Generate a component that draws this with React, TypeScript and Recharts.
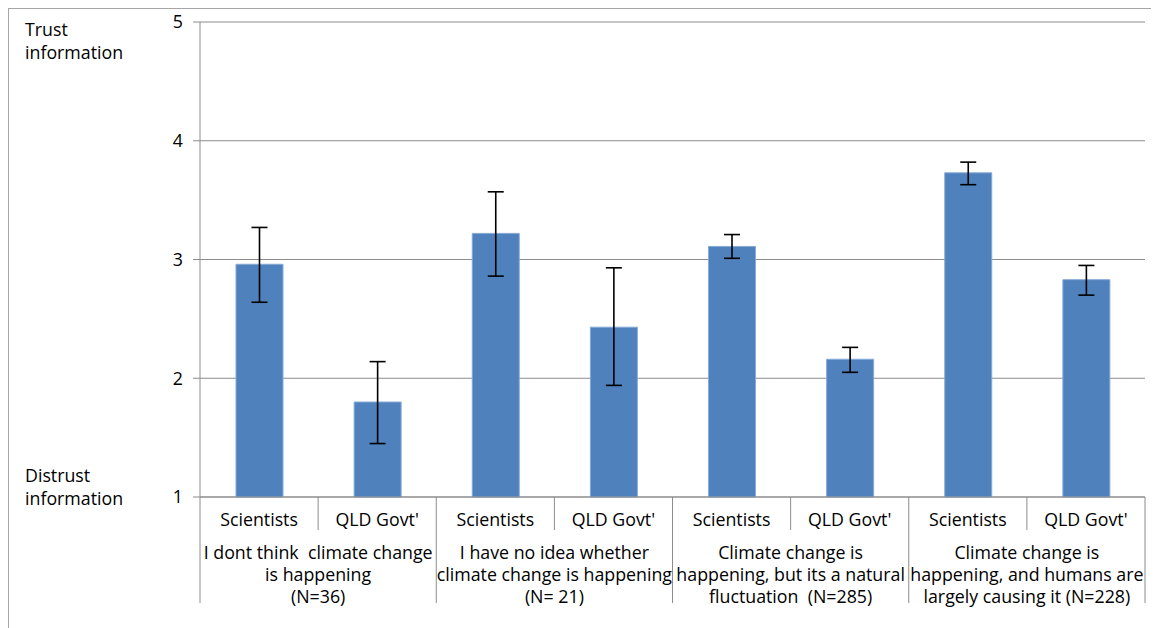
import React from 'react'
import { BarChart, Bar, XAxis, YAxis, CartesianGrid, ErrorBar } from 'recharts'

const sources = ["Scientists", "QLD Govt'", "Scientists", "QLD Govt'", "Scientists", "QLD Govt'", "Scientists", "QLD Govt'"]
const groupLabels = [
  ['I dont think  climate change', 'is happening', '(N=36)'],
  ['I have no idea whether', 'climate change is happening', '(N= 21)'],
  ['Climate change is', 'happening, but its a natural', 'fluctuation  (N=285)'],
  ['Climate change is', 'happening, and humans are', 'largely causing it (N=228)'],
]
const means = [2.96, 1.8, 3.22, 2.43, 3.11, 2.16, 3.73, 2.83]
const lower = [2.64, 1.45, 2.86, 1.94, 3.01, 2.05, 3.63, 2.7]
const upper = [3.27, 2.14, 3.57, 2.93, 3.21, 2.26, 3.82, 2.95]
const yTicks = [1, 2, 3, 4, 5]
const topLabel = ['Trust', 'information']
const bottomLabel = ['Distrust', 'information']

const data = sources.map((s, i) => ({
  key: `${i}`,
  source: s,
  value: means[i],
  err: [means[i] - lower[i], upper[i] - means[i]],
}))

const FONT = '"Open Sans", sans-serif'
const FS = 17.8
const LINE = '#8c8c8c'
const W = 1150
const H = 619
const PLOT_L = 191
const PLOT_R = 1136
const BAND = (PLOT_R - PLOT_L) / sources.length

function CategoryTick(props: any) {
  const { x, y, index } = props
  const src = sources[index]
  const left = x - BAND / 2
  const groupStart = index % 2 === 0
  const last = index === sources.length - 1
  return (
    <g>
      <line x1={left} y1={y} x2={left} y2={y + (groupStart ? 106 : 33)} stroke={LINE} strokeWidth={1} />
      {last && <line x1={x + BAND / 2} y1={y} x2={x + BAND / 2} y2={y + 106} stroke={LINE} strokeWidth={1} />}
      <text x={x} y={y + 29} textAnchor="middle" fontSize={FS} fontFamily={FONT} fill="#000">
        {src}
      </text>
      {!groupStart &&
        groupLabels[(index - 1) / 2].map((line, j) => (
          <text
            key={j}
            x={left}
            y={y + 62 + j * 22}
            textAnchor="middle"
            fontSize={FS}
            fontFamily={FONT}
            fill="#000"
            style={{ whiteSpace: 'pre' }}
          >
            {line}
          </text>
        ))}
    </g>
  )
}

export default function App() {
  return (
    <div
      style={{
        position: 'relative',
        width: W,
        height: H,
        borderLeft: '1px solid #a6a6a6',
        borderTop: '1px solid #a6a6a6',
        fontFamily: FONT,
        background: '#fff',
      }}
    >
      <BarChart
        width={W}
        height={H}
        data={data}
        margin={{ top: 13, right: W - PLOT_R, bottom: 0, left: 0 }}
        barSize={47}
      >
        <CartesianGrid vertical={false} stroke={LINE} strokeWidth={1.2} />
        <XAxis
          dataKey="key"
          height={131}
          tickSize={0}
          tickMargin={0}
          interval={0}
          axisLine={{ stroke: LINE }}
          tick={<CategoryTick />}
        />
        <YAxis
          width={PLOT_L}
          domain={[1, 5]}
          ticks={yTicks}
          interval={0}
          tickSize={7}
          tickMargin={10}
          axisLine={{ stroke: LINE }}
          tickLine={{ stroke: LINE }}
          tick={{ fontSize: FS, fontFamily: FONT, fill: '#000' }}
        />
        <Bar dataKey="value" fill="#4f81bd" stroke="#86a9d6" strokeWidth={1} isAnimationActive={false}>
          <ErrorBar dataKey="err" width={8} stroke="#000" strokeWidth={1.6} direction="y" />
        </Bar>
      </BarChart>
      <svg width={150} height={H} style={{ position: 'absolute', left: 0, top: 0, pointerEvents: 'none' }}>
        {topLabel.map((t, i) => (
          <text key={`t${i}`} x={16} y={27 + i * 22.5} fontSize={FS} fontFamily={FONT} fill="#000">
            {t}
          </text>
        ))}
        {bottomLabel.map((t, i) => (
          <text key={`b${i}`} x={16} y={473 + i * 22.5} fontSize={FS} fontFamily={FONT} fill="#000">
            {t}
          </text>
        ))}
      </svg>
    </div>
  )
}
